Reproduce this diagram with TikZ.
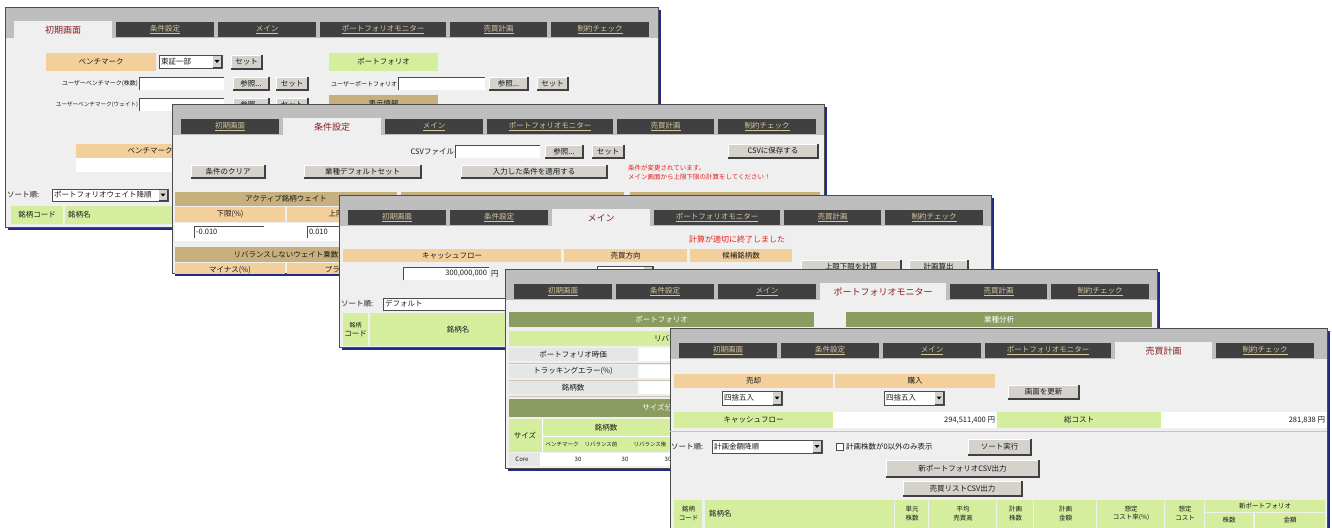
\documentclass[tikz,border=0pt]{standalone}
\usepackage{fontspec}
\setmainfont{Noto Sans CJK JP}

\definecolor{hdrgray}{HTML}{BEBEBE}
\definecolor{bodygray}{HTML}{EFEFEF}
\definecolor{tabdark}{HTML}{404040}
\definecolor{tabtan}{HTML}{D6C7A0}
\definecolor{actred}{HTML}{8A1E1E}
\definecolor{peach}{HTML}{F3CF9C}
\definecolor{lgreen}{HTML}{D5EE9E}
\definecolor{tanbar}{HTML}{C7B07E}
\definecolor{olivebar}{HTML}{8C9C60}
\definecolor{shadowblue}{HTML}{1E2C88}
\definecolor{btngray}{HTML}{D5D2CC}
\definecolor{msgred}{HTML}{E4201C}
\definecolor{rowgray}{HTML}{E6E6E6}
\definecolor{sepline}{HTML}{CFC6A4}

\tikzset{
  txt/.style={inner sep=0pt, outer sep=0pt, align=center, text=black!90, font=\fontsize{7.5}{9}\selectfont},
  smalltxt/.style={txt, font=\fontsize{6}{7}\selectfont},
  tinytxt/.style={txt, font=\fontsize{5.5}{6.5}\selectfont},
  hdtxt/.style={txt, font=\fontsize{6.5}{8.5}\selectfont},
  tabtxt/.style={inner sep=0pt, text=tabtan, font=\fontsize{7.5}{9}\selectfont},
  acttxt/.style={inner sep=0pt, text=actred, font=\fontsize{9}{10}\selectfont},
  redtxt/.style={txt, text=msgred, font=\fontsize{6.5}{7.5}\selectfont},
  whitetxt/.style={txt, text=white},
}

% one screenshot window: name, left, top, right, bottom, active tab
\newcommand{\screen}[6]{%
  \fill[shadowblue] (#2+3,#3+3) rectangle (#4+3,#5+3);
  \fill[bodygray] (#2,#3) rectangle (#4,#5);
  \fill[hdrgray] (#2,#3) rectangle (#4,#3+31);
  \foreach \off/\tw/\lbl [count=\idx] in {0/98/初期画面,102/98/条件設定,204/98/メイン,306/126/ポートフォリオモニター,436/97/売買計画,537/98/制約チェック}{
    \ifnum\idx=#6
      \fill[bodygray] (#2+9+\off,#3+14) rectangle (#2+9+\off+\tw,#3+31);
      \node[acttxt] (#1-tab\idx) at (#2+9+\off+\tw/2,#3+23) {\lbl};
    \else
      \fill[tabdark] (#2+9+\off,#3+15) rectangle (#2+9+\off+\tw,#3+30);
      \node[tabtxt] (#1-tab\idx) at (#2+9+\off+\tw/2,#3+22.5) {\underline{\lbl}};
    \fi}
  \draw[black!70,line width=0.8pt] (#2,#3) rectangle (#4,#5);}

% button: name, x1, y1, x2, y2, text
\newcommand{\btn}[6]{%
  \fill[btngray] (#2,#3) rectangle (#4,#5);
  \draw[white] (#2,#5) -- (#2,#3) -- (#4,#3);
  \draw[black!75,line width=1.1pt] (#2,#5) -- (#4,#5) -- (#4,#3);
  \node[txt] (#1) at ({(#2+#4)/2},{(#3+#5)/2}) {#6};}

% text field: name, x1, y1, x2, y2, text
\newcommand{\inbox}[6]{%
  \fill[white] (#2,#3) rectangle (#4,#5);
  \draw[black!70,line width=1pt] (#2,#5) -- (#2,#3) -- (#4,#3);
  \node[txt,anchor=west] (#1) at (#2+2,{(#3+#5)/2}) {#6};}

% drop-down: name, x1, y1, x2, y2, text
\newcommand{\ddbox}[6]{%
  \fill[white] (#2,#3) rectangle (#4,#5);
  \draw[black!70] (#2,#3) rectangle (#4,#5);
  \fill[btngray] (#4-9,#3+1) rectangle (#4-1,#5-1);
  \draw[black!75] (#4-9,#5-1) -- (#4-1,#5-1) -- (#4-1,#3+1);
  \fill (#4-7.5,{(#3+#5)/2-1.5}) -- ++(5,0) -- ++(-2.5,3) -- cycle;
  \node[txt,anchor=west] (#1) at (#2+2,{(#3+#5)/2}) {#6};}

% coloured cell: name, x1, y1, x2, y2, fill, text
\newcommand{\gridcell}[7]{%
  \fill[#6] (#2,#3) rectangle (#4,#5);
  \node[txt] (#1) at ({(#2+#4)/2},{(#3+#5)/2}) {#7};}

\begin{document}
\begin{tikzpicture}[x=1pt,y=-1pt]
\clip (0,0) rectangle (1332,527);
\fill[white] (0,0) rectangle (1332,527);

% initial screen
\screen{s1}{5}{7}{658}{227}{1}
\begin{scope}
\clip (5,7) rectangle (658,227);
\gridcell{s1-bm}{46}{53}{156}{71}{peach}{ベンチマーク}
\ddbox{s1-idx}{159}{55}{222}{68}{東証一部}
\btn{s1-set}{231}{55}{262}{69}{セット}
\gridcell{s1-pf}{329}{53}{438}{71}{lgreen}{ポートフォリオ}
\node[smalltxt,anchor=east] (s1-ubm) at (138,84) {ユーザーベンチマーク(株数)};
\inbox{s1-ubmin}{139}{77}{224}{90}{}
\btn{s1-ref1}{233}{77}{269}{90}{参照...}
\btn{s1-set1}{276}{77}{308}{90}{セット}
\node[smalltxt,anchor=east] (s1-upf) at (397,84) {ユーザーポートフォリオ};
\inbox{s1-upfin}{398}{77}{485}{90}{}
\btn{s1-ref2}{489}{77}{528}{90}{参照...}
\btn{s1-set2}{537}{77}{568}{90}{セット}
\node[smalltxt,font=\fontsize{5.6}{7}\selectfont,anchor=east] (s1-ubw) at (138,105) {ユーザーベンチマーク(ウェイト)};
\inbox{s1-ubwin}{139}{98}{224}{111}{}
\btn{s1-ref3}{233}{98}{269}{111}{参照...}
\btn{s1-set3}{276}{98}{308}{111}{セット}
\gridcell{s1-disp}{329}{95}{438}{112}{tanbar}{表示情報}
\gridcell{s1-bm2}{76}{144}{224}{158}{peach}{ベンチマーク}
\fill[white] (76,158) rectangle (224,172);
\node[txt,anchor=west] (s1-sort) at (7,195) {ソート順:};
\ddbox{s1-sortdd}{52}{189}{168}{201}{ポートフォリオウェイト降順}
\gridcell{s1-code}{11}{206}{63}{224}{lgreen}{銘柄コード}
\gridcell{s1-name}{65}{206}{600}{224}{lgreen}{}
\node[txt,anchor=west] (s1-namet) at (68,215) {銘柄名};
\end{scope}

% condition settings
\screen{s2}{172}{104}{824}{273}{2}
\begin{scope}
\clip (172,104) rectangle (824,273);
\node[txt,anchor=east] (s2-csv) at (454,152) {CSVファイル};
\inbox{s2-csvin}{455}{145}{540}{158}{}
\btn{s2-ref}{545}{145}{583}{158}{参照...}
\btn{s2-set}{592}{145}{624}{158}{セット}
\btn{s2-save}{728}{144}{818}{158}{CSVに保存する}
\btn{s2-clr}{191}{165}{265}{178}{条件のクリア}
\btn{s2-dflt}{304}{165}{421}{178}{業種デフォルトセット}
\btn{s2-apply}{461}{165}{607}{178}{入力した条件を適用する}
\node[redtxt,anchor=west] (s2-msg1) at (628,168) {条件が変更されています。};
\node[redtxt,anchor=west] (s2-msg2) at (628,177) {メイン画面から上限下限の計算をしてください！};
\gridcell{s2-aw}{175}{192}{397}{206}{tanbar}{アクティブ銘柄ウェイト}
\fill[tanbar] (401,192) rectangle (624,206);
\fill[tanbar] (630,192) rectangle (820,206);
\gridcell{s2-lo}{175}{207}{285}{222}{peach}{下限(\%)}
\gridcell{s2-hi}{287}{207}{397}{222}{peach}{上限(\%)}
\fill[white] (175,223) rectangle (397,241);
\inbox{s2-loin}{194}{226}{264}{238}{-0.010}
\inbox{s2-hiin}{307}{226}{377}{238}{0.010}
\gridcell{s2-nr}{175}{247}{397}{262}{tanbar}{リバランスしないウェイト乗数}
\gridcell{s2-mi}{175}{263}{285}{277}{peach}{マイナス(\%)}
\gridcell{s2-pl}{287}{263}{397}{277}{peach}{プラス(\%)}
\end{scope}

% main
\screen{s3}{339}{195}{991}{347}{3}
\begin{scope}
\clip (339,195) rectangle (991,347);
\node[redtxt,font=\fontsize{8}{9}\selectfont,anchor=west] (s3-done) at (689,239) {計算が適切に終了しました};
\gridcell{s3-cf}{343}{249}{561}{262}{peach}{キャッシュフロー}
\gridcell{s3-dir}{564}{249}{687}{262}{peach}{売買方向}
\gridcell{s3-cand}{690}{249}{792}{262}{peach}{候補銘柄数}
\inbox{s3-cfin}{403}{267}{489}{280}{}
\node[txt,anchor=east] (s3-cfv) at (487,273.5) {300,000,000};
\node[txt,anchor=west] (s3-yen) at (491,273.5) {円};
\ddbox{s3-dirdd}{597}{266}{653}{279}{}
\btn{s3-lim}{801}{260}{901}{274}{上限下限を計算}
\btn{s3-plan}{909}{260}{968}{274}{計画算出}
\node[txt,anchor=west] (s3-sort) at (341,304) {ソート順:};
\ddbox{s3-sortdd}{383}{298}{620}{310}{デフォルト}
\gridcell{s3-code}{343}{313}{368}{346}{lgreen}{\fontsize{6}{7}\selectfont 銘柄\\コード}
\gridcell{s3-name}{370}{313}{700}{346}{lgreen}{}
\node[txt] (s3-namet) at (458,330) {銘柄名};
\end{scope}

% portfolio monitor
\screen{s4}{505}{269}{1157}{468}{4}
\begin{scope}
\clip (505,269) rectangle (1157,468);
\gridcell{s4-pf}{509}{312}{814}{327}{olivebar}{\color{white}ポートフォリオ}
\gridcell{s4-ind}{846}{312}{1152}{327}{olivebar}{\color{white}業種分析}
\fill[lgreen] (509,331) rectangle (814,346);
\node[txt,anchor=west] (s4-rb) at (654,338.5) {リバランス前};
\foreach \y/\lbl [count=\idx] in {348/ポートフォリオ時価,365/トラッキングエラー(\%),381/銘柄数}{
  \fill[rowgray] (509,\y) rectangle (637,\y+13);
  \fill[white] (639,\y) rectangle (814,\y+13);
  \draw[sepline,line width=1pt] (509,\y+15) -- (814,\y+15);
  \node[txt] (s4-row\idx) at (573,\y+6.5) {\lbl};}
\gridcell{s4-size}{509}{399}{814}{417}{olivebar}{}
\node[whitetxt] (s4-sizet) at (661,408) {サイズ分析};
\fill[lgreen] (509,419) rectangle (814,452);
\draw[white] (542,419) -- (542,452);
\draw[white] (542,436) -- (814,436);
\node[txt] (s4-sz) at (525,435.5) {サイズ};
\node[txt] (s4-cnt) at (606,427.5) {銘柄数};
\node[tinytxt] (s4-bm) at (562,444.5) {ベンチマーク};
\node[tinytxt] (s4-pre) at (601,444.5) {リバランス前};
\node[tinytxt] (s4-post) at (650,444.5) {リバランス後};
\fill[white] (509,453) rectangle (814,466);
\fill[rowgray] (509,453) rectangle (540,466);
\node[smalltxt] (s4-core) at (522,459.5) {Core};
\node[smalltxt] (s4-v1) at (578,459.5) {30};
\node[smalltxt] (s4-v2) at (625,459.5) {30};
\node[smalltxt] (s4-v3) at (668,459.5) {30};
\end{scope}

% trading plan
\screen{s5}{670}{328}{1327}{540}{5}
\begin{scope}
\clip (670,328) rectangle (1327,540);
\gridcell{s5-sell}{674}{374}{833}{388}{peach}{売却}
\gridcell{s5-buy}{835}{374}{995}{388}{peach}{購入}
\ddbox{s5-selldd}{722}{391}{782}{405}{四捨五入}
\ddbox{s5-buydd}{884}{391}{944}{405}{四捨五入}
\btn{s5-upd}{1008}{385}{1079}{399}{画面を更新}
\gridcell{s5-cf}{674}{412}{833}{428}{lgreen}{キャッシュフロー}
\fill[white] (833,412) rectangle (997,428);
\node[txt,anchor=east] (s5-cfv) at (995,420) {294,511,400 円};
\gridcell{s5-cost}{997}{412}{1161}{428}{lgreen}{総コスト}
\fill[white] (1161,412) rectangle (1327,428);
\node[txt,anchor=east] (s5-costv) at (1325,420) {281,838 円};
\draw[sepline] (670,431) -- (1327,431);
\node[txt,anchor=west] (s5-sort) at (671,447) {ソート順:};
\ddbox{s5-sortdd}{712}{440}{822}{453}{計画金額降順}
\draw[black!70,fill=white] (836,443) rectangle (843,450);
\node[txt,anchor=west] (s5-chk) at (846,447) {計画株数が0以外のみ表示};
\btn{s5-sortbtn}{968}{439}{1031}{455}{ソート実行}
\btn{s5-newpf}{886}{460}{1039}{477}{新ポートフォリオCSV出力}
\btn{s5-trade}{903}{481}{1022}{496}{売買リストCSV出力}
\foreach \xa/\xb/\lbl [count=\idx] in {674/703/{銘柄\\コード},705/895/{},895/929/{単元\\株数},929/997/{平均\\売買高},997/1034/{計画\\株数},1034/1097/{計画\\金額},1097/1165/{想定\\コスト率(\%)},1165/1205/{想定\\コスト}}{
  \fill[lgreen] (\xa,500) rectangle (\xb-1,540);
  \node[hdtxt] (s5-h\idx) at ({(\xa+\xb)/2},513.5) {\lbl};}
\node[txt,anchor=west] (s5-name) at (709,513.5) {銘柄名};
\gridcell{s5-newpfh}{1205}{500}{1325}{512}{lgreen}{\fontsize{6.5}{8}\selectfont 新ポートフォリオ}
\gridcell{s5-qty}{1205}{513}{1253}{540}{lgreen}{}
\gridcell{s5-amt}{1255}{513}{1325}{540}{lgreen}{}
\node[hdtxt] (s5-qtyt) at (1229,520) {株数};
\node[hdtxt] (s5-amtt) at (1290,520) {金額};
\end{scope}
\end{tikzpicture}
\end{document}
